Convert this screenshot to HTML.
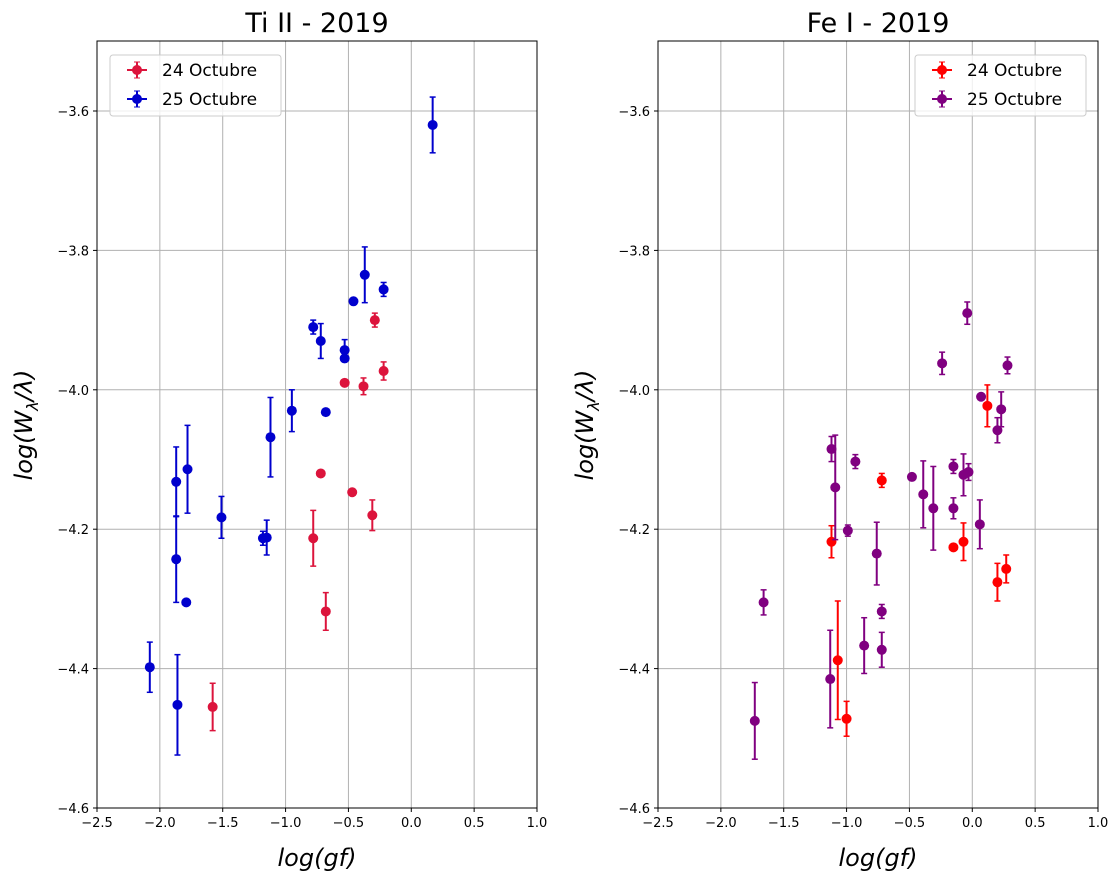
<!DOCTYPE html>
<html><head><meta charset="utf-8"><style>
body{margin:0;background:#fff}
svg text{font-family:"DejaVu Sans","Liberation Sans",sans-serif}
</style></head><body>
<svg id="chart" width="1119" height="885" xmlns="http://www.w3.org/2000/svg"></svg>
<script>
const xTicks=[-2.5,-2.0,-1.5,-1.0,-0.5,0.0,0.5,1.0];
const yTicks=[-3.6,-3.8,-4.0,-4.2,-4.4,-4.6];
const tiTitle="Ti II - 2019", feTitle="Fe I - 2019";
const ti24x=[-0.29,-0.22,-0.38,-0.53,-0.72,-0.47,-0.31,-0.78,-0.68,-1.58];
const ti24y=[-3.90,-3.973,-3.995,-3.99,-4.12,-4.147,-4.18,-4.213,-4.318,-4.455];
const ti24e=[0.01,0.013,0.012,0,0,0,0.022,0.04,0.027,0.034];
const ti25x=[0.17,-0.37,-0.22,-0.46,-0.78,-0.72,-0.53,-0.53,-0.95,-0.68,-1.12,-1.78,-1.87,-1.51,-1.18,-1.15,-1.87,-1.79,-2.08,-1.86];
const ti25y=[-3.62,-3.835,-3.856,-3.873,-3.91,-3.93,-3.943,-3.955,-4.03,-4.032,-4.068,-4.114,-4.132,-4.183,-4.213,-4.212,-4.243,-4.305,-4.398,-4.452];
const ti25e=[0.04,0.04,0.01,0,0.01,0.025,0.015,0,0.03,0,0.057,0.063,0.05,0.03,0.01,0.025,0.062,0,0.036,0.072];
const fe24x=[0.12,-0.72,-1.12,-0.07,-0.15,0.27,0.20,-1.07,-1.00];
const fe24y=[-4.023,-4.13,-4.218,-4.218,-4.226,-4.257,-4.276,-4.388,-4.472];
const fe24e=[0.03,0.01,0.023,0.027,0,0.02,0.027,0.085,0.025];
const fe25x=[-0.04,-0.24,0.28,0.07,0.23,0.20,-1.12,-1.09,-0.93,-0.48,-0.15,-0.07,-0.03,-0.39,-0.31,-0.15,0.06,-0.99,-0.76,-1.66,-0.72,-0.86,-0.72,-1.13,-1.73];
const fe25y=[-3.89,-3.962,-3.965,-4.01,-4.028,-4.058,-4.085,-4.14,-4.103,-4.125,-4.11,-4.122,-4.118,-4.15,-4.17,-4.17,-4.193,-4.202,-4.235,-4.305,-4.318,-4.367,-4.373,-4.415,-4.475];
const fe25e=[0.016,0.016,0.012,0,0.025,0.018,0.018,0.075,0.01,0,0.01,0.03,0.012,0.048,0.06,0.015,0.035,0.008,0.045,0.018,0.01,0.04,0.025,0.07,0.055];

const svg=document.getElementById('chart');
const NS='http://www.w3.org/2000/svg';
function mk(tag,attrs,parent){const e=document.createElementNS(NS,tag);for(const k in attrs)e.setAttribute(k,attrs[k]);(parent||svg).appendChild(e);return e;}
const Y0=41,Y1=808;
function yScale(v){return 111+(v-(-3.6))*(808-111)/(-1.0);}

function panel(px,title,sets,leg,pname){
  const L=px,R=px+440;
  const xs=v=>L+(v+2.5)*440/3.5;
  const g=mk('g',{});
  
  
  xTicks.forEach(t=>{
    const l=mk('line',{x1:xs(t),x2:xs(t),y1:Y0,y2:Y1,stroke:'#b0b0b0','stroke-width':1},g);
    
    mk('line',{x1:xs(t),x2:xs(t),y1:Y1,y2:Y1+4,stroke:'#000'},g);
    const tx=mk('text',{x:xs(t),y:Y1+19,'text-anchor':'middle','font-size':13,fill:'#000'},g);
    tx.textContent=(t<0?'\u2212':'')+Math.abs(t).toFixed(1);
    
  });
  yTicks.forEach(t=>{
    const y=yScale(t);
    const l=mk('line',{x1:L,x2:R,y1:y,y2:y,stroke:'#b0b0b0','stroke-width':1},g);
    
    mk('line',{x1:L-4,x2:L,y1:y,y2:y,stroke:'#000'},g);
    const tx=mk('text',{x:L-8,y:y+5,'text-anchor':'end','font-size':13,fill:'#000'},g);
    tx.textContent='\u2212'+Math.abs(t).toFixed(1);
    
  });
  sets.forEach(s=>{
    s.x.forEach((xv,i)=>{
      const cx=xs(xv),cy=yScale(s.y[i]),e=s.e[i];
      if(e>0){
        const y1=yScale(s.y[i]+e),y2=yScale(s.y[i]-e);
        const b=mk('line',{x1:cx,x2:cx,y1:y1,y2:y2,stroke:s.c,'stroke-width':2},g);
        
        mk('line',{x1:cx-3,x2:cx+3,y1:y1,y2:y1,stroke:s.c,'stroke-width':1.5},g);
        mk('line',{x1:cx-3,x2:cx+3,y1:y2,y2:y2,stroke:s.c,'stroke-width':1.5},g);
      }
      const c=mk('circle',{cx:cx,cy:cy,r:5,fill:s.c},g);
      
    });
  });
  const fr=mk('rect',{x:L,y:Y0,width:440,height:Y1-Y0,fill:'none',stroke:'#000','stroke-width':1},g);
  
  const tt=mk('text',{x:L+220,y:32,'text-anchor':'middle','font-size':27,fill:'#000'},g);
  tt.textContent=title;
  const xl=mk('text',{x:L+220,y:866,'text-anchor':'middle','font-size':24,'font-style':'italic',fill:'#000'},g);
  xl.textContent='log(gf)';
  const yl=mk('text',{x:0,y:0,'text-anchor':'middle','font-size':24,'font-style':'italic',fill:'#000',transform:`translate(${L-65},425) rotate(-90)`},g);
  yl.innerHTML='log(W<tspan font-size="16" dy="6">λ</tspan><tspan dy="-6">/λ)</tspan>';
  
  const lg=mk('g',{},g);
  
  mk('rect',{x:leg,y:55,width:171,height:61,rx:3,fill:'#fff','fill-opacity':0.8,stroke:'#ccc'},lg);
  sets.forEach((s,k)=>{
    const y=70+k*29,x=leg+27;
    const en=mk('g',{},lg);
    
    mk('line',{x1:x-10,x2:x+10,y1:y,y2:y,stroke:s.c,'stroke-width':2},en);
    mk('line',{x1:x,x2:x,y1:y-8,y2:y+8,stroke:s.c,'stroke-width':2},en);
    mk('line',{x1:x-3,x2:x+3,y1:y-8,y2:y-8,stroke:s.c},en);
    mk('line',{x1:x-3,x2:x+3,y1:y+8,y2:y+8,stroke:s.c},en);
    mk('circle',{cx:x,cy:y,r:5,fill:s.c},en);
    const t=mk('text',{x:leg+52,y:y+6,'font-size':17,fill:'#000'},en);t.textContent=s.label;
  });
}
panel(97,tiTitle,[
 {x:ti24x,y:ti24y,e:ti24e,c:'#dc143c',label:'24 Octubre',n:'ti-24'},
 {x:ti25x,y:ti25y,e:ti25e,c:'#0000cd',label:'25 Octubre',n:'ti-25'}],110,'ti-panel');
panel(658,feTitle,[
 {x:fe24x,y:fe24y,e:fe24e,c:'#ff0000',label:'24 Octubre',n:'fe-24'},
 {x:fe25x,y:fe25y,e:fe25e,c:'#800080',label:'25 Octubre',n:'fe-25'}],915,'fe-panel');
</script>
</body></html>
